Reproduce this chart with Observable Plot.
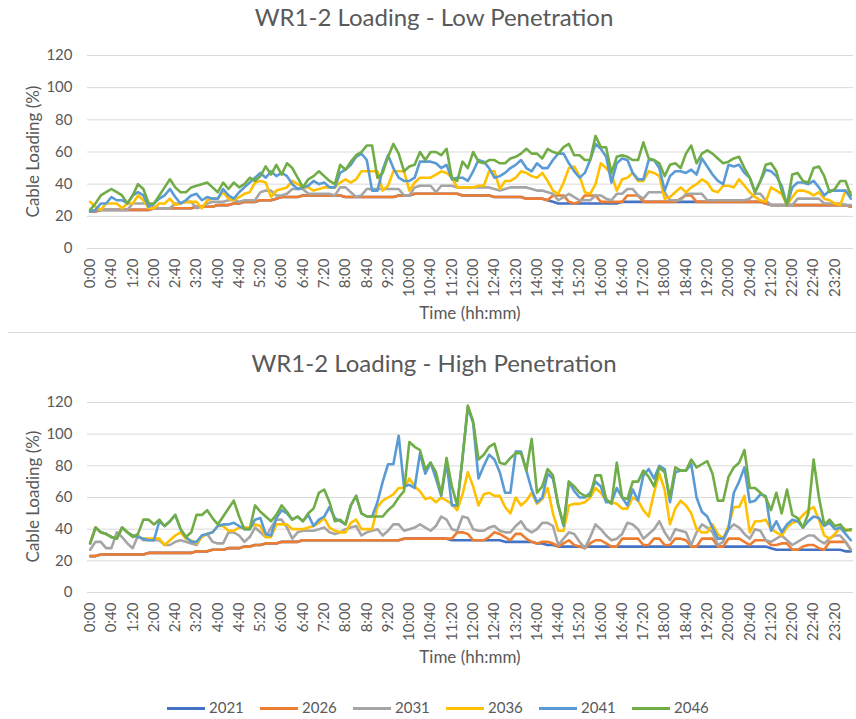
<!DOCTYPE html>
<html><head><meta charset="utf-8">
<script src="https://cdn.jsdelivr.net/npm/d3@7"></script>
<script src="https://cdn.jsdelivr.net/npm/@observablehq/plot@0.6"></script>
<style>
body{margin:0;background:#fff;font-family:Lato,"Open Sans",sans-serif;color:#595959}
#root{position:relative;width:856px;height:719px;overflow:hidden;background:#fff}
.abs{position:absolute;white-space:nowrap}
.title{font-size:24px;line-height:24px;left:6px;width:856px;text-align:center}
.xt{font-size:17px;line-height:17px;left:87px;width:766px;text-align:center}
.yt{font-size:17px;line-height:17px;width:200px;text-align:center;transform:rotate(-90deg);transform-origin:center center}
.leg{font-size:15px;line-height:15px}
.sw{height:3px;width:38px}
</style></head>
<body><div id="root"></div>
<script>
const seriesNames = ["2021","2026","2031","2036","2041","2046"];
const colors = ["#4472C4","#ED7D31","#A5A5A5","#FFC000","#5B9BD5","#70AD47"];
const yTicks = [0,20,40,60,80,100,120];
const tickLabels = ["0:00","0:40","1:20","2:00","2:40","3:20","4:00","4:40","5:20","6:00","6:40","7:20","8:00","8:40","9:20","10:00","10:40","11:20","12:00","12:40","13:20","14:00","14:40","15:20","16:00","16:40","17:20","18:00","18:40","19:20","20:00","20:40","21:20","22:00","22:40","23:20"];
const times = [];
for (let h = 0; h < 24; h++) for (const m of ["00","10","20","30","40","50"]) times.push(h + ":" + m);

// Low penetration
const low2021 = [
23,23,24,24,24,24,24,24,24,24,24,24,
25,25,25,25,25,25,25,25,26,26,26,26,
27,27,27,28,28,29,29,29,30,30,30,31,
32,32,32,32,33,33,33,33,33,33,33,33,
32,32,32,32,32,32,32,32,32,32,33,33,
33,34,34,34,34,34,34,34,34,34,33,33,
33,33,33,33,32,32,32,32,32,32,31,31,
31,31,30,29,28,28,28,28,28,28,28,28,
28,28,28,28,29,29,29,29,29,29,29,29,
29,29,29,29,29,29,29,29,29,29,29,29,
29,29,29,29,29,29,29,28,27,27,27,27,
27,27,27,27,27,27,27,27,27,27,27,26];
const low2026 = [
23,23,24,24,24,24,24,24,24,24,24,24,
25,25,25,25,25,25,25,25,26,26,26,26,
27,27,27,28,28,29,29,29,30,30,30,31,
32,32,32,32,33,33,33,33,33,33,33,33,
32,32,32,32,32,32,32,32,32,32,33,33,
33,34,34,34,34,34,34,34,34,34,33,33,
33,33,33,33,32,32,32,32,32,32,31,31,
31,31,30,33,33,33,29,28,29,33,33,33,
29,29,29,29,29,33,33,33,29,29,29,29,
29,29,29,31,33,33,29,29,29,29,29,29,
29,29,29,29,29,29,29,28,27,27,27,27,
27,27,27,27,27,27,27,27,27,27,27,26];
const low2031 = [
23,24,24,24,24,24,24,24,28,28,28,28,
26,25,25,25,28,28,29,29,25,26,28,29,
29,29,30,30,29,30,30,30,35,36,36,33,
33,34,37,37,37,34,34,34,34,34,33,38,
38,35,32,33,37,37,37,37,37,37,37,33,
33,38,39,39,39,35,39,39,39,38,38,38,
38,38,38,38,37,36,37,38,38,38,38,37,
36,36,35,34,30,32,34,32,30,30,30,33,
33,31,30,34,34,37,37,33,31,35,35,35,
35,30,30,30,34,34,34,34,30,30,30,30,
30,30,30,30,31,34,34,30,27,27,27,27,
27,31,31,31,31,31,28,28,28,28,27,27];
const low2036 = [
29,26,24,28,28,28,25,28,28,33,30,25,
25,28,28,31,27,28,29,29,29,25,30,31,
31,35,31,30,32,34,35,41,42,41,32,36,
37,38,42,40,38,38,36,37,38,38,38,41,
43,41,43,48,48,48,48,36,39,48,48,48,
36,41,44,44,44,46,48,47,44,38,38,38,
38,39,39,48,48,37,42,42,44,48,47,45,
44,47,42,36,34,41,50,51,45,35,34,40,
53,50,46,36,43,44,47,42,42,48,47,45,
31,32,35,38,35,38,40,43,41,36,35,39,
39,38,43,39,35,32,30,29,38,36,34,27,
32,36,36,35,33,35,31,30,28,27,36,35];
const low2041 = [
23,24,28,28,32,30,30,28,33,35,33,26,
28,31,33,37,32,28,30,33,34,30,32,31,
31,37,33,31,35,38,41,44,47,44,48,45,
47,45,40,37,38,39,42,40,41,38,38,47,
49,52,57,59,55,36,36,49,58,50,44,42,
42,44,54,54,54,53,50,52,43,44,44,42,
48,55,54,50,44,45,47,50,52,55,50,48,
53,50,50,55,59,59,53,48,44,47,55,65,
62,57,41,53,56,55,47,43,43,55,55,50,
36,45,48,48,47,49,46,56,51,46,42,40,
52,51,52,47,44,35,42,49,48,45,39,27,
38,41,41,40,42,38,33,36,36,36,36,31];
const low2046 = [
24,28,33,35,37,35,33,28,33,40,37,28,
28,33,38,43,38,35,35,38,39,40,41,38,
35,41,37,41,38,40,44,42,45,51,46,52,
46,53,50,44,38,43,45,48,45,42,40,52,
49,54,58,60,64,64,44,47,57,65,59,48,
51,52,60,55,60,60,58,62,44,42,54,50,
60,54,53,55,55,53,53,56,57,59,62,59,
59,56,62,60,59,63,65,58,58,55,55,70,
63,63,47,57,58,57,55,55,66,56,55,53,
45,52,53,50,59,64,53,59,61,59,56,53,
54,56,57,50,44,35,42,52,53,48,36,27,
46,47,42,41,50,51,45,35,37,42,42,33];

// High penetration
const high2021 = [
23,23,24,24,24,24,24,24,24,24,24,25,
25,25,25,25,25,25,25,25,26,26,26,27,
27,27,28,28,28,29,29,30,30,31,31,31,
32,32,32,32,33,33,33,33,33,33,33,33,
33,33,33,33,33,33,33,33,33,33,33,34,
34,34,34,34,34,34,34,34,33,33,33,33,
33,33,33,33,33,33,32,32,32,32,32,32,
31,31,30,30,29,29,29,29,29,29,29,29,
29,29,29,29,29,29,29,29,29,29,29,29,
29,29,29,29,29,29,29,29,29,29,29,29,
29,29,29,29,29,29,29,29,28,27,27,27,
27,27,27,27,27,27,27,27,27,27,26,26];
const high2026 = [
23,23,24,24,24,24,24,24,24,24,24,25,
25,25,25,25,25,25,25,25,26,26,26,27,
27,27,28,28,28,29,29,30,30,31,31,31,
32,32,32,32,33,33,33,33,33,33,33,33,
33,33,33,33,33,33,33,33,33,33,33,34,
34,34,34,34,34,34,34,34,34,38,38,37,
33,33,33,35,38,37,35,33,37,37,34,32,
31,32,32,31,29,31,33,30,29,28,31,33,
33,31,29,29,34,34,34,34,30,30,34,34,
30,30,34,34,33,29,29,34,34,34,29,29,
34,34,34,32,30,33,33,33,30,30,31,31,
27,27,29,30,30,28,27,32,32,32,32,27];
const high2031 = [
27,32,32,28,28,38,35,31,28,36,33,33,
33,33,30,30,32,33,32,31,30,36,37,32,
31,31,38,38,36,32,35,41,38,35,41,46,
46,41,34,38,39,39,39,40,41,38,37,38,
40,41,42,36,38,39,40,36,39,43,43,39,
40,41,43,41,39,42,48,46,40,39,48,47,
40,39,39,41,42,39,38,38,42,45,40,38,
40,44,44,42,30,34,38,37,32,28,35,43,
40,36,33,34,37,44,43,40,34,37,40,45,
38,33,40,39,38,30,38,43,41,38,30,32,
40,43,41,37,34,40,39,33,32,34,36,33,
30,32,34,36,36,33,31,34,36,36,32,27];
const high2036 = [
31,41,38,37,35,34,41,38,36,35,34,34,
34,34,30,33,36,38,34,33,31,35,37,38,
42,42,39,39,41,41,41,43,42,35,35,43,
43,43,40,40,40,41,42,44,47,41,39,38,
38,44,46,40,40,40,54,58,60,62,66,66,
72,67,64,59,60,57,60,58,56,52,62,76,
67,55,62,63,61,61,54,50,60,55,58,63,
56,59,66,50,39,39,55,56,56,57,60,66,
63,58,57,56,53,53,60,58,52,48,63,75,
65,43,53,58,55,50,40,38,38,43,37,34,
42,54,54,61,38,45,45,46,40,38,36,41,
44,45,49,52,54,46,36,34,37,41,40,39];
const high2041 = [
31,41,38,37,35,34,41,38,36,35,34,33,
33,45,42,45,49,40,35,32,32,36,37,38,
42,43,43,44,42,40,40,46,47,37,36,47,
52,50,46,48,45,49,42,46,48,54,47,45,
43,55,61,50,48,48,57,70,81,81,99,67,
68,66,88,75,82,72,61,82,55,55,85,117,
107,72,80,87,84,76,63,63,89,89,77,65,
57,60,75,72,55,42,70,64,60,60,63,70,
67,57,57,66,60,55,65,58,74,78,72,80,
78,57,76,77,77,81,60,51,48,41,34,34,
40,63,70,79,57,58,62,61,39,45,38,43,
46,45,41,45,48,47,42,44,40,41,37,33];
const high2046 = [
31,41,38,37,35,34,41,38,35,37,46,46,
43,46,42,45,49,40,35,38,49,49,52,47,
43,48,53,58,48,40,40,55,51,48,45,49,
55,51,46,48,45,50,53,63,65,57,45,46,
43,55,61,50,48,48,48,48,52,55,60,64,
95,92,90,78,82,76,62,85,67,55,85,118,
108,84,87,92,94,82,81,85,88,88,77,97,
63,67,78,74,55,43,70,67,63,61,61,74,
74,59,56,82,60,59,70,70,77,73,67,79,
76,60,79,77,77,84,79,81,83,75,58,58,
73,79,82,90,66,66,63,60,52,63,50,65,
49,47,41,50,84,60,43,46,42,43,39,40];

const root = document.getElementById("root");

function addDiv(cls, text, css) {
  const d = document.createElement("div");
  d.className = "abs " + cls;
  d.textContent = text;
  Object.assign(d.style, css);
  root.appendChild(d);
  return d;
}

function panel(series, top, marginTop, marginBottom) {
  const rows = [];
  series.forEach((arr, k) => arr.forEach((v, i) => rows.push({t: times[i], v, s: seriesNames[k]})));
  const svg = Plot.plot({
    width: 856, height: 330,
    marginTop, marginBottom, marginLeft: 87, marginRight: 3,
    style: {fontFamily: "Lato", fontSize: "15px", color: "#595959", background: "transparent", overflow: "visible"},
    x: {type: "point", domain: times, padding: 0.5, align: 0.5},
    y: {domain: [0, 120]},
    color: {domain: seriesNames, range: colors},
    marks: [
      Plot.gridY(yTicks, {stroke: "#d9d9d9", strokeOpacity: 1, strokeWidth: 1}),
      Plot.axisY(yTicks, {tickSize: 0, tickPadding: 15, label: null}),
      Plot.axisX(tickLabels, {tickSize: 0, tickRotate: -90, tickPadding: 10, label: null}),
      Plot.line(rows, {x: "t", y: "v", z: "s", stroke: "s", strokeWidth: 2.6, strokeLinejoin: "round", strokeLinecap: "round"})
    ]
  });
  svg.style.position = "absolute";
  svg.style.left = "0px";
  svg.style.top = top + "px";
  root.appendChild(svg);
}

panel([low2021, low2026, low2031, low2036, low2041, low2046], 0, 55, 82);
panel([high2021, high2026, high2031, high2036, high2041, high2046], 340, 62, 78);

addDiv("title", "WR1-2 Loading - Low Penetration", {top: "5px"});
addDiv("title", "WR1-2 Loading - High Penetration", {top: "351px"});
addDiv("xt", "Time (hh:mm)", {top: "304px"});
addDiv("xt", "Time (hh:mm)", {top: "648px"});
addDiv("yt", "Cable Loading (%)", {left: "-68px", top: "143px"});
addDiv("yt", "Cable Loading (%)", {left: "-68px", top: "488px"});

const sep = document.createElement("div");
Object.assign(sep.style, {position: "absolute", left: "8px", width: "848px", top: "332px", height: "1px", background: "#d9d9d9"});
root.appendChild(sep);

seriesNames.forEach((name, k) => {
  const x0 = 167 + 93 * k;
  const sw = document.createElement("div");
  sw.className = "abs sw";
  Object.assign(sw.style, {left: x0 + "px", top: "707px", background: colors[k]});
  root.appendChild(sw);
  addDiv("leg", name, {left: (x0 + 42) + "px", top: "700px"});
});
</script>
</body></html>
